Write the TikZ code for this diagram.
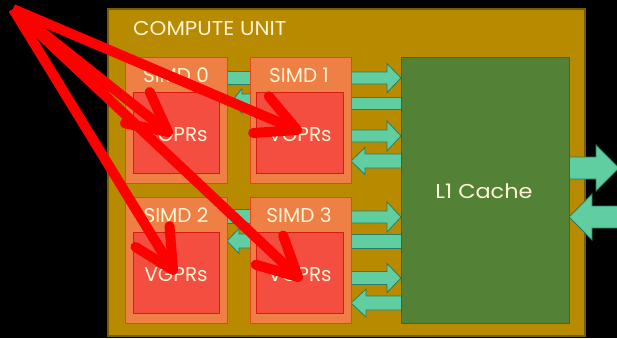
\documentclass[tikz,border=0pt]{standalone}
\usepackage{fontspec}
\setmainfont{Poppins}
\usetikzlibrary{fit,calc}
\definecolor{cufill}{RGB}{184,138,0}
\definecolor{cudraw}{RGB}{120,92,0}
\definecolor{simdfill}{RGB}{238,128,70}
\definecolor{simddraw}{RGB}{228,70,30}
\definecolor{vgfill}{RGB}{244,78,64}
\definecolor{vgdraw}{RGB}{215,30,20}
\definecolor{lonefill}{RGB}{83,130,54}
\definecolor{lonedraw}{RGB}{50,105,75}
\definecolor{tealfill}{RGB}{96,206,160}
\definecolor{tealdraw}{RGB}{40,125,100}
\definecolor{txt}{RGB}{255,244,214}
\newcommand\fatArrow[6]{\draw[tealarrow] (#1,{#4-#5}) -- (#2,{#4-#5}) -- (#2,{#4-#6}) -- (#3,#4) -- (#2,{#4+#6}) -- (#2,{#4+#5}) -- (#1,{#4+#5}) -- cycle;}
\tikzset{
  cubox/.style={draw=cudraw, fill=cufill, line width=1.5pt, inner sep=0pt},
  simdbox/.style={draw=simddraw, fill=simdfill, line width=1pt, inner sep=0pt},
  vgbox/.style={draw=vgdraw, fill=vgfill, line width=1pt, inner sep=0pt},
  lonebox/.style={draw=lonedraw, fill=lonefill, line width=1pt, inner sep=0pt},
  tealarrow/.style={draw=tealdraw, fill=tealfill, line width=0.8pt, line join=miter},
  lbl/.style={text=txt, inner sep=0pt, anchor=base, font=\fontsize{20}{24}\selectfont},
  redline/.style={draw=red, line width=10pt},
  redhead/.style={draw=red, line width=10pt, line cap=round, line join=round},
}
\begin{document}
\begin{tikzpicture}[x=1pt, y=-1pt]
\useasboundingbox (0,0) rectangle (617,338);
\clip (0,0) rectangle (617,338);
\fill[black] (0,0) rectangle (617,338);
\node[cubox, fit={(108,9) (585,336)}] (cu) {};
\node[lbl, anchor=base west, xscale=1.07] (cutxt) at (133,35) {COMPUTE UNIT};
% teal arrows between SIMD columns
\draw[tealarrow] (220,71.5) rectangle (256,84.5);
\fatArrow{256}{242}{232}{101}{7}{12.5}
\draw[tealarrow] (220,209) rectangle (256,223);
\fatArrow{256}{239}{227}{241}{7}{12.5}
% teal arrows to L1, upper
\fatArrow{340}{387}{401}{78}{6}{14.5}
\draw[tealarrow] (340,97) rectangle (405,109);
\fatArrow{340}{387}{401}{136}{6}{15}
\fatArrow{405}{365}{351}{161}{7}{13.5}
% lower
\fatArrow{340}{387}{401}{217}{6}{15}
\draw[tealarrow] (340,234) rectangle (405,248);
\fatArrow{340}{387}{401}{278}{6.5}{14.5}
\fatArrow{405}{366}{351}{303}{7}{14}
% outside
\fatArrow{560}{596}{619}{168}{11}{23}
\fatArrow{630}{592}{569}{217}{11}{23}
% SIMD boxes
\node[simdbox, fit={(125,57) (227,183)}] (s0) {};
\node[simdbox, fit={(250,57) (351,183)}] (s1) {};
\node[simdbox, fit={(125,197) (227,323)}] (s2) {};
\node[simdbox, fit={(250,197) (351,323)}] (s3) {};
\node[vgbox, fit={(133,92) (219,173)}] (v0) {};
\node[vgbox, fit={(256,92) (343,173)}] (v1) {};
\node[vgbox, fit={(133,232) (219,313)}] (v2) {};
\node[vgbox, fit={(256,232) (343,313)}] (v3) {};
\node[lonebox, fit={(401,57) (569,323)}] (l1) {};
% labels
\node[lbl] (s0t) at (176,82) {SIMD 0};
\node[lbl] (s1t) at (299,82) {SIMD 1};
\node[lbl] (s2t) at (176,222) {SIMD 2};
\node[lbl] (s3t) at (299,222) {SIMD 3};
\node[lbl] (v0t) at (176,141) {VGPRs};
\node[lbl] (v1t) at (300,141) {VGPRs};
\node[lbl] (v2t) at (176,281) {VGPRs};
\node[lbl] (v3t) at (300,281) {VGPRs};
\node[lbl, xscale=1.12] (l1t) at (484,198) {L1 Cache};
% red arrows
\coordinate (src) at (13,9);
\coordinate (t0) at (168,132);
\coordinate (t1) at (297,130);
\coordinate (t2) at (173,270);
\coordinate (t3) at (298,277);
\foreach \t in {t0,t1,t2,t3}{
  \draw[redline] (src) -- (\t);
  \draw[redhead] ($(\t)!44pt!27:(src)$) -- (\t) -- ($(\t)!44pt!-27:(src)$);
}
\end{tikzpicture}
\end{document}
